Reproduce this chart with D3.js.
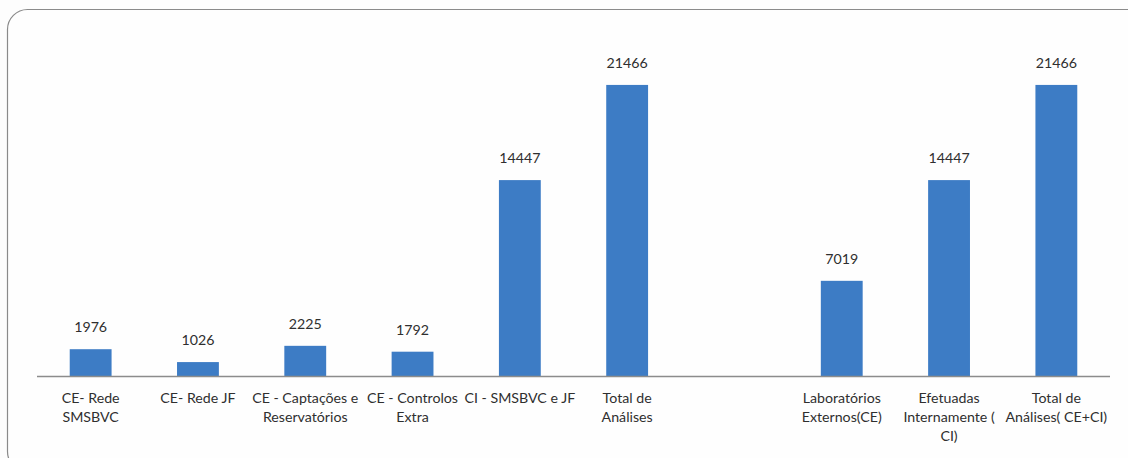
<!DOCTYPE html>
<html>
<head>
<meta charset="utf-8">
<script src="https://cdn.jsdelivr.net/npm/d3@7"></script>
<style>
  html, body { margin: 0; padding: 0; background: #fdfdfd; }
  svg { display: block; }
</style>
</head>
<body>
<div id="chart"></div>
<script>
// categories (the empty one is the gap between the two groups)
const categories = [
  "CE- Rede SMSBVC",
  "CE- Rede JF",
  "CE - Captações e Reservatórios",
  "CE - Controlos Extra",
  "CI - SMSBVC e JF",
  "Total de Análises",
  "",
  "Laboratórios Externos(CE)",
  "Efetuadas Internamente ( CI)",
  "Total de Análises( CE+CI)"
]
const values = [1976, 1026, 2225, 1792, 14447, 21466, null, 7019, 14447, 21466]
// wrapped lines of the tick labels, as in the picture
const tickLines = [
  ["CE- Rede", "SMSBVC"],
  ["CE- Rede JF"],
  ["CE - Captações e", "Reservatórios"],
  ["CE - Controlos", "Extra"],
  ["CI - SMSBVC e JF"],
  ["Total de", "Análises"],
  [],
  ["Laboratórios", "Externos(CE)"],
  ["Efetuadas", "Internamente (", "CI)"],
  ["Total de", "Análises( CE+CI)"]
]

const width = 1128
const height = 458
const baseY = 376

const svg = d3.select("#chart")
  .append("svg")
  .attr("width", width)
  .attr("height", height)
  .style("font-family", "Lato, 'Open Sans', sans-serif")

// frame
svg.append("rect")
  .attr("x", 7.5).attr("y", 9.5)
  .attr("width", 1140).attr("height", 462)
  .attr("rx", 20).attr("ry", 20)
  .attr("fill", "#fefefe")
  .attr("stroke", "#8a8a8a")
  .attr("stroke-width", 1.2)

const x = d3.scaleBand()
  .domain(d3.range(categories.length))
  .range([37, 1110])
  .paddingInner(0.61)
  .paddingOuter(0.305)

const y = d3.scaleLinear()
  .domain([0, 25000])
  .range([baseY, 37])

const data = categories.map((c, i) => ({ i, name: c, value: values[i], lines: tickLines[i] }))
const bars = data.filter(d => d.value != null)

svg.append("g")
  .selectAll("rect")
  .data(bars)
  .join("rect")
  .attr("x", d => x(d.i))
  .attr("y", d => y(d.value))
  .attr("width", x.bandwidth())
  .attr("height", d => y(0) - y(d.value))
  .attr("fill", "#3d7cc5")

// value labels
svg.append("g")
  .selectAll("text")
  .data(bars)
  .join("text")
  .attr("x", d => x(d.i) + x.bandwidth() / 2)
  .attr("y", d => y(d.value) - 17)
  .attr("text-anchor", "middle")
  .attr("fill", "#2f2f2f")
  .style("font-size", "14.2px")
  .text(d => d.value)

// axis line
svg.append("line")
  .attr("x1", 37).attr("x2", 1110)
  .attr("y1", baseY + 0.5).attr("y2", baseY + 0.5)
  .attr("stroke", "#8c8c8c")
  .attr("stroke-width", 1.3)

// category labels
const tick = svg.append("g")
  .selectAll("text")
  .data(data)
  .join("text")
  .attr("text-anchor", "middle")
  .attr("fill", "#2f2f2f")
  .style("font-size", "14.2px")

tick.selectAll("tspan")
  .data(d => d.lines.map(l => ({ l, cx: x(d.i) + x.bandwidth() / 2 })))
  .join("tspan")
  .attr("x", d => d.cx)
  .attr("y", (d, k) => 403 + k * 19)
  .text(d => d.l)
</script>
</body>
</html>
